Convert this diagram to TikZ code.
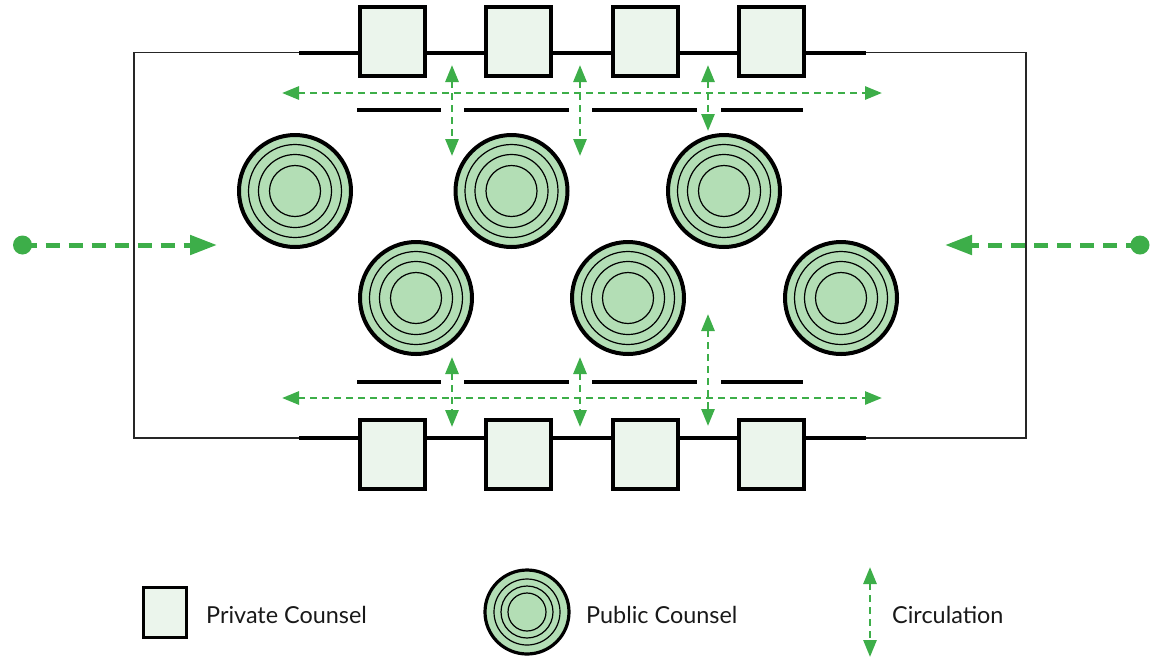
\documentclass[tikz,border=0pt]{standalone}
\usepackage{fontspec}
\setmainfont{Lato}
\usetikzlibrary{arrows.meta}
\definecolor{cgreen}{RGB}{61,174,73}
\definecolor{cfill}{RGB}{179,222,181}
\definecolor{sfill}{RGB}{235,245,236}
\begin{document}
\begin{tikzpicture}[x=1pt,y=-1pt,
  privbox/.style={draw=black, line width=4pt, fill=sfill, minimum width=65pt, minimum height=69pt, inner sep=0pt, outer sep=0pt},
  pubdisc/.style={draw=black, line width=4pt, fill=cfill, circle, minimum size=112pt, inner sep=0pt, outer sep=0pt},
  ring/.style={draw=black, line width=1.2pt},
  wall/.style={draw=black, line width=4pt},
  frame/.style={draw=black!85, line width=1.2pt},
  circ/.style={draw=cgreen, line width=2.8pt, dash pattern=on 7pt off 5pt,
     {Triangle[length=17pt,width=13pt]}-{Triangle[length=17pt,width=13pt]}},
  entry/.style={draw=cgreen, line width=5pt, dash pattern=on 14pt off 9pt,
     -{Triangle[length=27pt,width=19pt]}},
  entrydot/.style={circle, fill=cgreen, minimum size=19pt, inner sep=0pt, outer sep=0pt},
  legtext/.style={anchor=base west, inner xsep=0pt, font=\fontsize{23.4}{27}\selectfont, text=black!90},
]
\useasboundingbox (0,0) rectangle (1161,657);

% frame
\draw[frame] (299,52.5) -- (134,52.5) -- (134,438) -- (299,438);
\draw[frame] (866,52.5) -- (1026,52.5) -- (1026,438) -- (866,438);
\draw[wall] (299,52.5) -- (866,52.5);
\draw[wall] (299,438) -- (866,438);

% top squares
\node[privbox] (t1) at (392.5,41.5) {};
\node[privbox] (t2) at (518.5,41.5) {};
\node[privbox] (t3) at (645,41.5) {};
\node[privbox] (t4) at (771.5,41.5) {};
% bottom squares
\node[privbox] (b1) at (392.5,454) {};
\node[privbox] (b2) at (518.5,454) {};
\node[privbox] (b3) at (645,454) {};
\node[privbox] (b4) at (771.5,454) {};

% bars
\foreach \a/\b in {357/441,464/569,592/697,721/803}{
  \draw[wall] (\a,110) -- (\b,110);
  \draw[wall] (\a,382) -- (\b,382);
}

% discs
\foreach \n/\x/\y in {p1/295/191,p2/511.5/191,p3/724/191,p4/416/298,p5/628/298,p6/841/298}{
  \node[pubdisc] (\n) at (\x,\y) {};
  \draw[ring] (\n.center) circle (46.5pt);
  \draw[ring] (\n.center) circle (36.5pt);
  \draw[ring] (\n.center) circle (25.5pt);
}

% circulation arrows
\coordinate (ha1) at (282,93);  \coordinate (ha2) at (882,93);
\coordinate (hb1) at (282,398); \coordinate (hb2) at (882,398);
\draw[circ] (ha1) -- (ha2);
\draw[circ] (hb1) -- (hb2);
\coordinate (v1a) at (452,65);  \coordinate (v1b) at (452,156);
\coordinate (v2a) at (580,65);  \coordinate (v2b) at (580,156);
\coordinate (v3a) at (708,65);  \coordinate (v3b) at (708,131);
\draw[circ] (v1a) -- (v1b);
\draw[circ] (v2a) -- (v2b);
\draw[circ] (v3a) -- (v3b);
\coordinate (w1a) at (452,357);  \coordinate (w1b) at (452,427);
\coordinate (w2a) at (580,357);  \coordinate (w2b) at (580,427);
\coordinate (w3a) at (708,314);  \coordinate (w3b) at (708,426);
\draw[circ] (w1a) -- (w1b);
\draw[circ] (w2a) -- (w2b);
\draw[circ] (w3a) -- (w3b);

% entries
\node[entrydot] (ldot) at (22.5,245) {};
\coordinate (ltip) at (217,245);
\draw[entry] (ldot.center) -- (ltip);
\node[entrydot] (rdot) at (1140,245) {};
\coordinate (rtip) at (945,245);
\draw[entry] (rdot.center) -- (rtip);

% legend
\node[privbox, line width=3.5pt, minimum width=43pt, minimum height=50pt] (lsq) at (165,612.5) {};
\node[legtext] (lsqt) at (206,623) {Private Counsel};
\node[pubdisc, line width=3.2pt, minimum size=84pt] (ldisc) at (527,612) {};
\draw[ring] (ldisc.center) circle (33pt);
\draw[ring] (ldisc.center) circle (26pt);
\draw[ring] (ldisc.center) circle (19pt);
\node[legtext] (ldisct) at (586,623) {Public Counsel};
\coordinate (lca) at (870,567); \coordinate (lcb) at (870,657);
\draw[circ] (lca) -- (lcb);
\node[legtext] (lct) at (892,623) {Circulation};
\end{tikzpicture}
\end{document}
